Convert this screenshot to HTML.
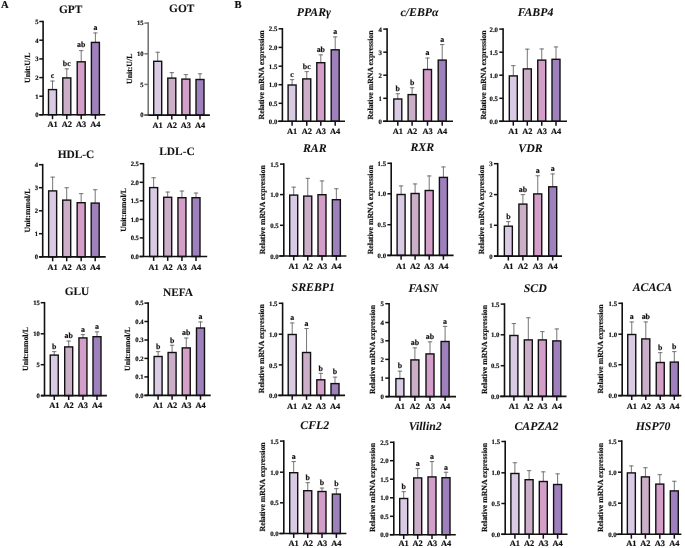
<!DOCTYPE html>
<html><head><meta charset="utf-8"><title>Figure</title>
<style>
html,body{margin:0;padding:0;background:#fff;}
body{width:685px;height:548px;overflow:hidden;}
svg{display:block;will-change:transform;filter:blur(0.3px);}
text{font-family:'Liberation Serif', serif;font-weight:bold;fill:#111;text-rendering:geometricPrecision;stroke:#111;stroke-width:0.18px;}
.ti{font-size:11.4px;text-anchor:middle;stroke-width:0.05px;}
.it{font-style:italic;font-size:11.8px;}
.tk{text-anchor:end;}
.yl{font-size:7.8px;text-anchor:middle;}
.xl{font-size:8.4px;text-anchor:middle;}
.let{font-size:7.9px;text-anchor:middle;}
.pl{font-size:10.6px;}
</style></head>
<body>
<svg width="685" height="548" viewBox="0 0 685 548">
<rect width="685" height="548" fill="#fff"/>
<text x="0.9" y="8.1" class="pl">A</text>
<text x="234.4" y="8.1" class="pl">B</text>
<line x1="52.5" y1="80.6" x2="52.5" y2="90.7" stroke="#666" stroke-width="0.9"/>
<line x1="50.3" y1="81.05" x2="54.7" y2="81.05" stroke="#666" stroke-width="0.9"/>
<rect x="48.5" y="89.6" width="8" height="25.2" fill="#d9cbe4" stroke="#111" stroke-width="1.4"/>
<text x="52.5" y="78.3" class="let">c</text>
<line x1="52.5" y1="114.8" x2="52.5" y2="119.2" stroke="#111" stroke-width="1.5"/>
<text x="52.5" y="127.4" class="xl">A1</text>
<line x1="66.8" y1="68.4" x2="66.8" y2="79" stroke="#666" stroke-width="0.9"/>
<line x1="64.6" y1="68.85" x2="69" y2="68.85" stroke="#666" stroke-width="0.9"/>
<rect x="62.8" y="77.9" width="8" height="36.9" fill="#cbaec7" stroke="#111" stroke-width="1.4"/>
<text x="66.8" y="66.1" class="let">bc</text>
<line x1="66.8" y1="114.8" x2="66.8" y2="119.2" stroke="#111" stroke-width="1.5"/>
<text x="66.8" y="127.4" class="xl">A2</text>
<line x1="81.2" y1="50.2" x2="81.2" y2="62.9" stroke="#666" stroke-width="0.9"/>
<line x1="79" y1="50.65" x2="83.4" y2="50.65" stroke="#666" stroke-width="0.9"/>
<rect x="77.2" y="61.8" width="8" height="53" fill="#d39ec8" stroke="#111" stroke-width="1.4"/>
<text x="81.2" y="46.6" class="let">ab</text>
<line x1="81.2" y1="114.8" x2="81.2" y2="119.2" stroke="#111" stroke-width="1.5"/>
<text x="81.2" y="127.4" class="xl">A3</text>
<line x1="95.4" y1="32.5" x2="95.4" y2="43.5" stroke="#666" stroke-width="0.9"/>
<line x1="93.2" y1="32.95" x2="97.6" y2="32.95" stroke="#666" stroke-width="0.9"/>
<rect x="91.4" y="42.4" width="8" height="72.4" fill="#9d80bc" stroke="#111" stroke-width="1.4"/>
<text x="95.4" y="30.2" class="let">a</text>
<line x1="95.4" y1="114.8" x2="95.4" y2="119.2" stroke="#111" stroke-width="1.5"/>
<text x="95.4" y="127.4" class="xl">A4</text>
<line x1="43.1" y1="20.7" x2="43.1" y2="114.8" stroke="#111" stroke-width="1.6"/>
<line x1="39.2" y1="114.8" x2="105.3" y2="114.8" stroke="#111" stroke-width="1.6"/>
<line x1="39.3" y1="21.5" x2="43.1" y2="21.5" stroke="#111" stroke-width="1.5"/>
<text x="38.5" y="23.8" class="tk" font-size="6.6">5</text>
<line x1="39.3" y1="40.2" x2="43.1" y2="40.2" stroke="#111" stroke-width="1.5"/>
<text x="38.5" y="42.5" class="tk" font-size="6.6">4</text>
<line x1="39.3" y1="58.9" x2="43.1" y2="58.9" stroke="#111" stroke-width="1.5"/>
<text x="38.5" y="61.2" class="tk" font-size="6.6">3</text>
<line x1="39.3" y1="77.6" x2="43.1" y2="77.6" stroke="#111" stroke-width="1.5"/>
<text x="38.5" y="79.9" class="tk" font-size="6.6">2</text>
<line x1="39.3" y1="96.2" x2="43.1" y2="96.2" stroke="#111" stroke-width="1.5"/>
<text x="38.5" y="98.5" class="tk" font-size="6.6">1</text>
<line x1="39.3" y1="114.8" x2="43.1" y2="114.8" stroke="#111" stroke-width="1.5"/>
<text x="38.5" y="117.1" class="tk" font-size="6.6">0</text>
<text x="70.7" y="13" class="ti">GPT</text>
<text transform="translate(29.7,67.8) rotate(-90)" class="yl">Unit:U/L</text>
<line x1="157.7" y1="51.8" x2="157.7" y2="62.4" stroke="#666" stroke-width="0.9"/>
<line x1="155.5" y1="52.25" x2="159.9" y2="52.25" stroke="#666" stroke-width="0.9"/>
<rect x="153.7" y="61.3" width="8" height="53.8" fill="#d9cbe4" stroke="#111" stroke-width="1.4"/>
<line x1="157.7" y1="115.1" x2="157.7" y2="119.5" stroke="#111" stroke-width="1.5"/>
<text x="157.7" y="127.7" class="xl">A1</text>
<line x1="171.8" y1="72.2" x2="171.8" y2="79.2" stroke="#666" stroke-width="0.9"/>
<line x1="169.6" y1="72.65" x2="174" y2="72.65" stroke="#666" stroke-width="0.9"/>
<rect x="167.8" y="78.1" width="8" height="37" fill="#cbaec7" stroke="#111" stroke-width="1.4"/>
<line x1="171.8" y1="115.1" x2="171.8" y2="119.5" stroke="#111" stroke-width="1.5"/>
<text x="171.8" y="127.7" class="xl">A2</text>
<line x1="185.9" y1="74.2" x2="185.9" y2="80.2" stroke="#666" stroke-width="0.9"/>
<line x1="183.7" y1="74.65" x2="188.1" y2="74.65" stroke="#666" stroke-width="0.9"/>
<rect x="181.9" y="79.1" width="8" height="36" fill="#d39ec8" stroke="#111" stroke-width="1.4"/>
<line x1="185.9" y1="115.1" x2="185.9" y2="119.5" stroke="#111" stroke-width="1.5"/>
<text x="185.9" y="127.7" class="xl">A3</text>
<line x1="200" y1="73.4" x2="200" y2="80.6" stroke="#666" stroke-width="0.9"/>
<line x1="197.8" y1="73.85" x2="202.2" y2="73.85" stroke="#666" stroke-width="0.9"/>
<rect x="196" y="79.5" width="8" height="35.6" fill="#9d80bc" stroke="#111" stroke-width="1.4"/>
<line x1="200" y1="115.1" x2="200" y2="119.5" stroke="#111" stroke-width="1.5"/>
<text x="200" y="127.7" class="xl">A4</text>
<line x1="148.2" y1="22.3" x2="148.2" y2="115.1" stroke="#777" stroke-width="1.6"/>
<line x1="144.5" y1="115.1" x2="209.9" y2="115.1" stroke="#111" stroke-width="1.6"/>
<line x1="144.4" y1="23.1" x2="148.2" y2="23.1" stroke="#777" stroke-width="1.5"/>
<text x="143.6" y="25.4" class="tk" font-size="6.6">15</text>
<line x1="144.4" y1="53.8" x2="148.2" y2="53.8" stroke="#777" stroke-width="1.5"/>
<text x="143.6" y="56.1" class="tk" font-size="6.6">10</text>
<line x1="144.4" y1="84.4" x2="148.2" y2="84.4" stroke="#777" stroke-width="1.5"/>
<text x="143.6" y="86.7" class="tk" font-size="6.6">5</text>
<line x1="144.4" y1="115.1" x2="148.2" y2="115.1" stroke="#777" stroke-width="1.5"/>
<text x="143.6" y="117.4" class="tk" font-size="6.6">0</text>
<text x="181.7" y="12" class="ti">GOT</text>
<text transform="translate(131.7,68.8) rotate(-90)" class="yl">Unit:U/L</text>
<line x1="52.65" y1="176.7" x2="52.65" y2="192" stroke="#666" stroke-width="0.9"/>
<line x1="50.45" y1="177.15" x2="54.85" y2="177.15" stroke="#666" stroke-width="0.9"/>
<rect x="48.65" y="190.9" width="8" height="66" fill="#d9cbe4" stroke="#111" stroke-width="1.4"/>
<line x1="52.65" y1="256.9" x2="52.65" y2="261.3" stroke="#111" stroke-width="1.5"/>
<text x="52.65" y="270.2" class="xl">A1</text>
<line x1="66.7" y1="187.3" x2="66.7" y2="201.2" stroke="#666" stroke-width="0.9"/>
<line x1="64.5" y1="187.75" x2="68.9" y2="187.75" stroke="#666" stroke-width="0.9"/>
<rect x="62.7" y="200.1" width="8" height="56.8" fill="#cbaec7" stroke="#111" stroke-width="1.4"/>
<line x1="66.7" y1="256.9" x2="66.7" y2="261.3" stroke="#111" stroke-width="1.5"/>
<text x="66.7" y="270.2" class="xl">A2</text>
<line x1="81.15" y1="193.2" x2="81.15" y2="203.8" stroke="#666" stroke-width="0.9"/>
<line x1="78.95" y1="193.65" x2="83.35" y2="193.65" stroke="#666" stroke-width="0.9"/>
<rect x="77.15" y="202.7" width="8" height="54.2" fill="#d39ec8" stroke="#111" stroke-width="1.4"/>
<line x1="81.15" y1="256.9" x2="81.15" y2="261.3" stroke="#111" stroke-width="1.5"/>
<text x="81.15" y="270.2" class="xl">A3</text>
<line x1="95.2" y1="189.3" x2="95.2" y2="204.2" stroke="#666" stroke-width="0.9"/>
<line x1="93" y1="189.75" x2="97.4" y2="189.75" stroke="#666" stroke-width="0.9"/>
<rect x="91.2" y="203.1" width="8" height="53.8" fill="#9d80bc" stroke="#111" stroke-width="1.4"/>
<line x1="95.2" y1="256.9" x2="95.2" y2="261.3" stroke="#111" stroke-width="1.5"/>
<text x="95.2" y="270.2" class="xl">A4</text>
<line x1="42.7" y1="163.9" x2="42.7" y2="256.9" stroke="#111" stroke-width="1.6"/>
<line x1="39.5" y1="256.9" x2="105.7" y2="256.9" stroke="#111" stroke-width="1.6"/>
<line x1="38.9" y1="164.7" x2="42.7" y2="164.7" stroke="#111" stroke-width="1.5"/>
<text x="38.1" y="167" class="tk" font-size="6.6">4</text>
<line x1="38.9" y1="187.7" x2="42.7" y2="187.7" stroke="#111" stroke-width="1.5"/>
<text x="38.1" y="190" class="tk" font-size="6.6">3</text>
<line x1="38.9" y1="210.8" x2="42.7" y2="210.8" stroke="#111" stroke-width="1.5"/>
<text x="38.1" y="213.1" class="tk" font-size="6.6">2</text>
<line x1="38.9" y1="233.7" x2="42.7" y2="233.7" stroke="#111" stroke-width="1.5"/>
<text x="38.1" y="236" class="tk" font-size="6.6">1</text>
<line x1="38.9" y1="256.9" x2="42.7" y2="256.9" stroke="#111" stroke-width="1.5"/>
<text x="38.1" y="259.2" class="tk" font-size="6.6">0</text>
<text x="76" y="157.5" class="ti">HDL-C</text>
<text transform="translate(30.4,210.5) rotate(-90)" class="yl">Unit:mmol/L</text>
<line x1="153.65" y1="177.3" x2="153.65" y2="188.7" stroke="#666" stroke-width="0.9"/>
<line x1="151.45" y1="177.75" x2="155.85" y2="177.75" stroke="#666" stroke-width="0.9"/>
<rect x="149.65" y="187.6" width="8" height="68.9" fill="#d9cbe4" stroke="#111" stroke-width="1.4"/>
<line x1="153.65" y1="256.5" x2="153.65" y2="260.9" stroke="#111" stroke-width="1.5"/>
<text x="153.65" y="270.2" class="xl">A1</text>
<line x1="167.7" y1="191.6" x2="167.7" y2="198.4" stroke="#666" stroke-width="0.9"/>
<line x1="165.5" y1="192.05" x2="169.9" y2="192.05" stroke="#666" stroke-width="0.9"/>
<rect x="163.7" y="197.3" width="8" height="59.2" fill="#cbaec7" stroke="#111" stroke-width="1.4"/>
<line x1="167.7" y1="256.5" x2="167.7" y2="260.9" stroke="#111" stroke-width="1.5"/>
<text x="167.7" y="270.2" class="xl">A2</text>
<line x1="181.95" y1="190.6" x2="181.95" y2="198.8" stroke="#666" stroke-width="0.9"/>
<line x1="179.75" y1="191.05" x2="184.15" y2="191.05" stroke="#666" stroke-width="0.9"/>
<rect x="177.95" y="197.7" width="8" height="58.8" fill="#d39ec8" stroke="#111" stroke-width="1.4"/>
<line x1="181.95" y1="256.5" x2="181.95" y2="260.9" stroke="#111" stroke-width="1.5"/>
<text x="181.95" y="270.2" class="xl">A3</text>
<line x1="196" y1="192.6" x2="196" y2="198.8" stroke="#666" stroke-width="0.9"/>
<line x1="193.8" y1="193.05" x2="198.2" y2="193.05" stroke="#666" stroke-width="0.9"/>
<rect x="192" y="197.7" width="8" height="58.8" fill="#9d80bc" stroke="#111" stroke-width="1.4"/>
<line x1="196" y1="256.5" x2="196" y2="260.9" stroke="#111" stroke-width="1.5"/>
<text x="196" y="270.2" class="xl">A4</text>
<line x1="143.5" y1="162.9" x2="143.5" y2="256.5" stroke="#111" stroke-width="1.6"/>
<line x1="139.6" y1="256.5" x2="207.2" y2="256.5" stroke="#111" stroke-width="1.6"/>
<line x1="139.7" y1="163.7" x2="143.5" y2="163.7" stroke="#111" stroke-width="1.5"/>
<text x="138.9" y="166" class="tk" font-size="6.6">2.5</text>
<line x1="139.7" y1="182.3" x2="143.5" y2="182.3" stroke="#111" stroke-width="1.5"/>
<text x="138.9" y="184.6" class="tk" font-size="6.6">2.0</text>
<line x1="139.7" y1="200.8" x2="143.5" y2="200.8" stroke="#111" stroke-width="1.5"/>
<text x="138.9" y="203.1" class="tk" font-size="6.6">1.5</text>
<line x1="139.7" y1="219.4" x2="143.5" y2="219.4" stroke="#111" stroke-width="1.5"/>
<text x="138.9" y="221.7" class="tk" font-size="6.6">1.0</text>
<line x1="139.7" y1="237.9" x2="143.5" y2="237.9" stroke="#111" stroke-width="1.5"/>
<text x="138.9" y="240.2" class="tk" font-size="6.6">0.5</text>
<line x1="139.7" y1="256.5" x2="143.5" y2="256.5" stroke="#111" stroke-width="1.5"/>
<text x="138.9" y="258.8" class="tk" font-size="6.6">0.0</text>
<text x="177" y="155" class="ti">LDL-C</text>
<text transform="translate(125.8,209.9) rotate(-90)" class="yl">Unit:mmol/L</text>
<line x1="54.25" y1="351.2" x2="54.25" y2="356.2" stroke="#666" stroke-width="0.9"/>
<line x1="52.05" y1="351.65" x2="56.45" y2="351.65" stroke="#666" stroke-width="0.9"/>
<rect x="50.25" y="355.1" width="8" height="40.5" fill="#d9cbe4" stroke="#111" stroke-width="1.4"/>
<text x="54.25" y="348.9" class="let">b</text>
<line x1="54.25" y1="395.6" x2="54.25" y2="400" stroke="#111" stroke-width="1.5"/>
<text x="54.25" y="408.2" class="xl">A1</text>
<line x1="68.7" y1="340.6" x2="68.7" y2="348" stroke="#666" stroke-width="0.9"/>
<line x1="66.5" y1="341.05" x2="70.9" y2="341.05" stroke="#666" stroke-width="0.9"/>
<rect x="64.7" y="346.9" width="8" height="48.7" fill="#cbaec7" stroke="#111" stroke-width="1.4"/>
<text x="68.7" y="338.3" class="let">ab</text>
<line x1="68.7" y1="395.6" x2="68.7" y2="400" stroke="#111" stroke-width="1.5"/>
<text x="68.7" y="408.2" class="xl">A2</text>
<line x1="82.95" y1="334.2" x2="82.95" y2="339" stroke="#666" stroke-width="0.9"/>
<line x1="80.75" y1="334.65" x2="85.15" y2="334.65" stroke="#666" stroke-width="0.9"/>
<rect x="78.95" y="337.9" width="8" height="57.7" fill="#d39ec8" stroke="#111" stroke-width="1.4"/>
<text x="82.95" y="331.9" class="let">a</text>
<line x1="82.95" y1="395.6" x2="82.95" y2="400" stroke="#111" stroke-width="1.5"/>
<text x="82.95" y="408.2" class="xl">A3</text>
<line x1="97" y1="331.4" x2="97" y2="337.8" stroke="#666" stroke-width="0.9"/>
<line x1="94.8" y1="331.85" x2="99.2" y2="331.85" stroke="#666" stroke-width="0.9"/>
<rect x="93" y="336.7" width="8" height="58.9" fill="#9d80bc" stroke="#111" stroke-width="1.4"/>
<text x="97" y="329.1" class="let">a</text>
<line x1="97" y1="395.6" x2="97" y2="400" stroke="#111" stroke-width="1.5"/>
<text x="97" y="408.2" class="xl">A4</text>
<line x1="44.5" y1="301.9" x2="44.5" y2="395.6" stroke="#111" stroke-width="1.6"/>
<line x1="41.1" y1="395.6" x2="106.9" y2="395.6" stroke="#111" stroke-width="1.6"/>
<line x1="40.7" y1="302.7" x2="44.5" y2="302.7" stroke="#111" stroke-width="1.5"/>
<text x="39.9" y="305" class="tk" font-size="6.6">15</text>
<line x1="40.7" y1="333.8" x2="44.5" y2="333.8" stroke="#111" stroke-width="1.5"/>
<text x="39.9" y="336.1" class="tk" font-size="6.6">10</text>
<line x1="40.7" y1="364.7" x2="44.5" y2="364.7" stroke="#111" stroke-width="1.5"/>
<text x="39.9" y="367" class="tk" font-size="6.6">5</text>
<line x1="40.7" y1="395.6" x2="44.5" y2="395.6" stroke="#111" stroke-width="1.5"/>
<text x="39.9" y="397.9" class="tk" font-size="6.6">0</text>
<text x="77" y="294.6" class="ti">GLU</text>
<text transform="translate(28.3,349) rotate(-90)" class="yl">Unit:mmol/L</text>
<line x1="158.1" y1="351.2" x2="158.1" y2="357.6" stroke="#666" stroke-width="0.9"/>
<line x1="155.9" y1="351.65" x2="160.3" y2="351.65" stroke="#666" stroke-width="0.9"/>
<rect x="154.1" y="356.5" width="8" height="38.9" fill="#d9cbe4" stroke="#111" stroke-width="1.4"/>
<text x="158.1" y="348.9" class="let">b</text>
<line x1="158.1" y1="395.4" x2="158.1" y2="399.8" stroke="#111" stroke-width="1.5"/>
<text x="158.1" y="408.2" class="xl">A1</text>
<line x1="172.1" y1="344.8" x2="172.1" y2="353.6" stroke="#666" stroke-width="0.9"/>
<line x1="169.9" y1="345.25" x2="174.3" y2="345.25" stroke="#666" stroke-width="0.9"/>
<rect x="168.1" y="352.5" width="8" height="42.9" fill="#cbaec7" stroke="#111" stroke-width="1.4"/>
<text x="172.1" y="342.5" class="let">b</text>
<line x1="172.1" y1="395.4" x2="172.1" y2="399.8" stroke="#111" stroke-width="1.5"/>
<text x="172.1" y="408.2" class="xl">A2</text>
<line x1="186.25" y1="337.6" x2="186.25" y2="349" stroke="#666" stroke-width="0.9"/>
<line x1="184.05" y1="338.05" x2="188.45" y2="338.05" stroke="#666" stroke-width="0.9"/>
<rect x="182.25" y="347.9" width="8" height="47.5" fill="#d39ec8" stroke="#111" stroke-width="1.4"/>
<text x="186.25" y="335.3" class="let">ab</text>
<line x1="186.25" y1="395.4" x2="186.25" y2="399.8" stroke="#111" stroke-width="1.5"/>
<text x="186.25" y="408.2" class="xl">A3</text>
<line x1="200.5" y1="321.5" x2="200.5" y2="329.1" stroke="#666" stroke-width="0.9"/>
<line x1="198.3" y1="321.95" x2="202.7" y2="321.95" stroke="#666" stroke-width="0.9"/>
<rect x="196.5" y="328" width="8" height="67.4" fill="#9d80bc" stroke="#111" stroke-width="1.4"/>
<text x="200.5" y="319.2" class="let">a</text>
<line x1="200.5" y1="395.4" x2="200.5" y2="399.8" stroke="#111" stroke-width="1.5"/>
<text x="200.5" y="408.2" class="xl">A4</text>
<line x1="148.2" y1="302.3" x2="148.2" y2="395.4" stroke="#111" stroke-width="1.6"/>
<line x1="144.5" y1="395.4" x2="210.7" y2="395.4" stroke="#111" stroke-width="1.6"/>
<line x1="144.4" y1="303.1" x2="148.2" y2="303.1" stroke="#111" stroke-width="1.5"/>
<text x="143.6" y="305.4" class="tk" font-size="6.6">0.5</text>
<line x1="144.4" y1="321.5" x2="148.2" y2="321.5" stroke="#111" stroke-width="1.5"/>
<text x="143.6" y="323.8" class="tk" font-size="6.6">0.4</text>
<line x1="144.4" y1="340" x2="148.2" y2="340" stroke="#111" stroke-width="1.5"/>
<text x="143.6" y="342.3" class="tk" font-size="6.6">0.3</text>
<line x1="144.4" y1="358.4" x2="148.2" y2="358.4" stroke="#111" stroke-width="1.5"/>
<text x="143.6" y="360.7" class="tk" font-size="6.6">0.2</text>
<line x1="144.4" y1="376.9" x2="148.2" y2="376.9" stroke="#111" stroke-width="1.5"/>
<text x="143.6" y="379.2" class="tk" font-size="6.6">0.1</text>
<line x1="144.4" y1="395.4" x2="148.2" y2="395.4" stroke="#111" stroke-width="1.5"/>
<text x="143.6" y="397.7" class="tk" font-size="6.6">0.0</text>
<text x="178" y="295.6" class="ti">NEFA</text>
<text transform="translate(130.2,349) rotate(-90)" class="yl">Unit:mmol/L</text>
<line x1="292.1" y1="79.2" x2="292.1" y2="86.1" stroke="#666" stroke-width="0.9"/>
<line x1="289.9" y1="79.65" x2="294.3" y2="79.65" stroke="#666" stroke-width="0.9"/>
<rect x="288.1" y="85" width="8" height="36.3" fill="#d9cbe4" stroke="#111" stroke-width="1.4"/>
<text x="292.1" y="76.9" class="let">c</text>
<line x1="292.1" y1="121.3" x2="292.1" y2="125.7" stroke="#111" stroke-width="1.5"/>
<text x="292.1" y="134.3" class="xl">A1</text>
<line x1="306.75" y1="71.2" x2="306.75" y2="80" stroke="#666" stroke-width="0.9"/>
<line x1="304.55" y1="71.65" x2="308.95" y2="71.65" stroke="#666" stroke-width="0.9"/>
<rect x="302.75" y="78.9" width="8" height="42.4" fill="#cbaec7" stroke="#111" stroke-width="1.4"/>
<text x="306.75" y="68.9" class="let">bc</text>
<line x1="306.75" y1="121.3" x2="306.75" y2="125.7" stroke="#111" stroke-width="1.5"/>
<text x="306.75" y="134.3" class="xl">A2</text>
<line x1="320.8" y1="54.4" x2="320.8" y2="63.8" stroke="#666" stroke-width="0.9"/>
<line x1="318.6" y1="54.85" x2="323" y2="54.85" stroke="#666" stroke-width="0.9"/>
<rect x="316.8" y="62.7" width="8" height="58.6" fill="#d39ec8" stroke="#111" stroke-width="1.4"/>
<text x="320.8" y="52.1" class="let">ab</text>
<line x1="320.8" y1="121.3" x2="320.8" y2="125.7" stroke="#111" stroke-width="1.5"/>
<text x="320.8" y="134.3" class="xl">A3</text>
<line x1="335.2" y1="36.5" x2="335.2" y2="50.9" stroke="#666" stroke-width="0.9"/>
<line x1="333" y1="36.95" x2="337.4" y2="36.95" stroke="#666" stroke-width="0.9"/>
<rect x="331.2" y="49.8" width="8" height="71.5" fill="#9d80bc" stroke="#111" stroke-width="1.4"/>
<text x="335.2" y="34.2" class="let">a</text>
<line x1="335.2" y1="121.3" x2="335.2" y2="125.7" stroke="#111" stroke-width="1.5"/>
<text x="335.2" y="134.3" class="xl">A4</text>
<line x1="282.4" y1="28" x2="282.4" y2="121.3" stroke="#111" stroke-width="1.6"/>
<line x1="278.2" y1="121.3" x2="345" y2="121.3" stroke="#111" stroke-width="1.6"/>
<line x1="278.6" y1="28.8" x2="282.4" y2="28.8" stroke="#111" stroke-width="1.5"/>
<text x="277.3" y="31.4" class="tk" font-size="6.8">2.5</text>
<line x1="278.6" y1="47.4" x2="282.4" y2="47.4" stroke="#111" stroke-width="1.5"/>
<text x="277.3" y="50" class="tk" font-size="6.8">2.0</text>
<line x1="278.6" y1="66.2" x2="282.4" y2="66.2" stroke="#111" stroke-width="1.5"/>
<text x="277.3" y="68.8" class="tk" font-size="6.8">1.5</text>
<line x1="278.6" y1="84.7" x2="282.4" y2="84.7" stroke="#111" stroke-width="1.5"/>
<text x="277.3" y="87.3" class="tk" font-size="6.8">1.0</text>
<line x1="278.6" y1="103.3" x2="282.4" y2="103.3" stroke="#111" stroke-width="1.5"/>
<text x="277.3" y="105.9" class="tk" font-size="6.8">0.5</text>
<line x1="278.6" y1="121.3" x2="282.4" y2="121.3" stroke="#111" stroke-width="1.5"/>
<text x="277.3" y="123.9" class="tk" font-size="6.8">0.0</text>
<text x="313.9" y="16.4" class="ti it">PPARγ</text>
<text transform="translate(263.5,74.9) rotate(-90)" class="yl">Relative mRNA expression</text>
<line x1="397.8" y1="93.3" x2="397.8" y2="100.1" stroke="#666" stroke-width="0.9"/>
<line x1="395.6" y1="93.75" x2="400" y2="93.75" stroke="#666" stroke-width="0.9"/>
<rect x="393.8" y="99" width="8" height="22.3" fill="#d9cbe4" stroke="#111" stroke-width="1.4"/>
<text x="397.8" y="91" class="let">b</text>
<line x1="397.8" y1="121.3" x2="397.8" y2="125.7" stroke="#111" stroke-width="1.5"/>
<text x="397.8" y="134.3" class="xl">A1</text>
<line x1="412.1" y1="87.3" x2="412.1" y2="95.7" stroke="#666" stroke-width="0.9"/>
<line x1="409.9" y1="87.75" x2="414.3" y2="87.75" stroke="#666" stroke-width="0.9"/>
<rect x="408.1" y="94.6" width="8" height="26.7" fill="#cbaec7" stroke="#111" stroke-width="1.4"/>
<text x="412.1" y="85" class="let">b</text>
<line x1="412.1" y1="121.3" x2="412.1" y2="125.7" stroke="#111" stroke-width="1.5"/>
<text x="412.1" y="134.3" class="xl">A2</text>
<line x1="427.5" y1="57.6" x2="427.5" y2="70.6" stroke="#666" stroke-width="0.9"/>
<line x1="425.3" y1="58.05" x2="429.7" y2="58.05" stroke="#666" stroke-width="0.9"/>
<rect x="423.5" y="69.5" width="8" height="51.8" fill="#d39ec8" stroke="#111" stroke-width="1.4"/>
<text x="427.5" y="55.3" class="let">a</text>
<line x1="427.5" y1="121.3" x2="427.5" y2="125.7" stroke="#111" stroke-width="1.5"/>
<text x="427.5" y="134.3" class="xl">A3</text>
<line x1="442.2" y1="44.1" x2="442.2" y2="61.2" stroke="#666" stroke-width="0.9"/>
<line x1="440" y1="44.55" x2="444.4" y2="44.55" stroke="#666" stroke-width="0.9"/>
<rect x="438.2" y="60.1" width="8" height="61.2" fill="#9d80bc" stroke="#111" stroke-width="1.4"/>
<text x="442.2" y="41.8" class="let">a</text>
<line x1="442.2" y1="121.3" x2="442.2" y2="125.7" stroke="#111" stroke-width="1.5"/>
<text x="442.2" y="134.3" class="xl">A4</text>
<line x1="387.1" y1="28.3" x2="387.1" y2="121.3" stroke="#111" stroke-width="1.6"/>
<line x1="383.1" y1="121.3" x2="453" y2="121.3" stroke="#111" stroke-width="1.6"/>
<line x1="383.3" y1="29.1" x2="387.1" y2="29.1" stroke="#111" stroke-width="1.5"/>
<text x="382" y="31.7" class="tk" font-size="6.8">4</text>
<line x1="383.3" y1="52.2" x2="387.1" y2="52.2" stroke="#111" stroke-width="1.5"/>
<text x="382" y="54.8" class="tk" font-size="6.8">3</text>
<line x1="383.3" y1="75.2" x2="387.1" y2="75.2" stroke="#111" stroke-width="1.5"/>
<text x="382" y="77.8" class="tk" font-size="6.8">2</text>
<line x1="383.3" y1="98.3" x2="387.1" y2="98.3" stroke="#111" stroke-width="1.5"/>
<text x="382" y="100.9" class="tk" font-size="6.8">1</text>
<line x1="383.3" y1="121.3" x2="387.1" y2="121.3" stroke="#111" stroke-width="1.5"/>
<text x="382" y="123.9" class="tk" font-size="6.8">0</text>
<text x="419.5" y="16.4" class="ti it">c/EBPα</text>
<text transform="translate(372.5,75) rotate(-90)" class="yl">Relative mRNA expression</text>
<line x1="513.3" y1="65.2" x2="513.3" y2="77" stroke="#666" stroke-width="0.9"/>
<line x1="511.1" y1="65.65" x2="515.5" y2="65.65" stroke="#666" stroke-width="0.9"/>
<rect x="509.3" y="75.9" width="8" height="45.4" fill="#d9cbe4" stroke="#111" stroke-width="1.4"/>
<line x1="513.3" y1="121.3" x2="513.3" y2="125.7" stroke="#111" stroke-width="1.5"/>
<text x="513.3" y="134.3" class="xl">A1</text>
<line x1="527.3" y1="48.7" x2="527.3" y2="70" stroke="#666" stroke-width="0.9"/>
<line x1="525.1" y1="49.15" x2="529.5" y2="49.15" stroke="#666" stroke-width="0.9"/>
<rect x="523.3" y="68.9" width="8" height="52.4" fill="#cbaec7" stroke="#111" stroke-width="1.4"/>
<line x1="527.3" y1="121.3" x2="527.3" y2="125.7" stroke="#111" stroke-width="1.5"/>
<text x="527.3" y="134.3" class="xl">A2</text>
<line x1="541.75" y1="48.5" x2="541.75" y2="61.2" stroke="#666" stroke-width="0.9"/>
<line x1="539.55" y1="48.95" x2="543.95" y2="48.95" stroke="#666" stroke-width="0.9"/>
<rect x="537.75" y="60.1" width="8" height="61.2" fill="#d39ec8" stroke="#111" stroke-width="1.4"/>
<line x1="541.75" y1="121.3" x2="541.75" y2="125.7" stroke="#111" stroke-width="1.5"/>
<text x="541.75" y="134.3" class="xl">A3</text>
<line x1="556" y1="46.5" x2="556" y2="60.4" stroke="#666" stroke-width="0.9"/>
<line x1="553.8" y1="46.95" x2="558.2" y2="46.95" stroke="#666" stroke-width="0.9"/>
<rect x="552" y="59.3" width="8" height="62" fill="#9d80bc" stroke="#111" stroke-width="1.4"/>
<line x1="556" y1="121.3" x2="556" y2="125.7" stroke="#111" stroke-width="1.5"/>
<text x="556" y="134.3" class="xl">A4</text>
<line x1="503.1" y1="28.3" x2="503.1" y2="121.3" stroke="#111" stroke-width="1.6"/>
<line x1="499.1" y1="121.3" x2="567" y2="121.3" stroke="#111" stroke-width="1.6"/>
<line x1="499.3" y1="29.1" x2="503.1" y2="29.1" stroke="#111" stroke-width="1.5"/>
<text x="498" y="31.7" class="tk" font-size="6.8">2.0</text>
<line x1="499.3" y1="52.2" x2="503.1" y2="52.2" stroke="#111" stroke-width="1.5"/>
<text x="498" y="54.8" class="tk" font-size="6.8">1.5</text>
<line x1="499.3" y1="75.2" x2="503.1" y2="75.2" stroke="#111" stroke-width="1.5"/>
<text x="498" y="77.8" class="tk" font-size="6.8">1.0</text>
<line x1="499.3" y1="98.3" x2="503.1" y2="98.3" stroke="#111" stroke-width="1.5"/>
<text x="498" y="100.9" class="tk" font-size="6.8">0.5</text>
<line x1="499.3" y1="121.3" x2="503.1" y2="121.3" stroke="#111" stroke-width="1.5"/>
<text x="498" y="123.9" class="tk" font-size="6.8">0.0</text>
<text x="535.5" y="16.4" class="ti it">FABP4</text>
<text transform="translate(486,75) rotate(-90)" class="yl">Relative mRNA expression</text>
<line x1="293.7" y1="186.7" x2="293.7" y2="196.2" stroke="#666" stroke-width="0.9"/>
<line x1="291.5" y1="187.15" x2="295.9" y2="187.15" stroke="#666" stroke-width="0.9"/>
<rect x="289.7" y="195.1" width="8" height="60.9" fill="#d9cbe4" stroke="#111" stroke-width="1.4"/>
<line x1="293.7" y1="256" x2="293.7" y2="260.4" stroke="#111" stroke-width="1.5"/>
<text x="293.7" y="268.9" class="xl">A1</text>
<line x1="307.75" y1="177.9" x2="307.75" y2="197.2" stroke="#666" stroke-width="0.9"/>
<line x1="305.55" y1="178.35" x2="309.95" y2="178.35" stroke="#666" stroke-width="0.9"/>
<rect x="303.75" y="196.1" width="8" height="59.9" fill="#cbaec7" stroke="#111" stroke-width="1.4"/>
<line x1="307.75" y1="256" x2="307.75" y2="260.4" stroke="#111" stroke-width="1.5"/>
<text x="307.75" y="268.9" class="xl">A2</text>
<line x1="322" y1="180.5" x2="322" y2="195.8" stroke="#666" stroke-width="0.9"/>
<line x1="319.8" y1="180.95" x2="324.2" y2="180.95" stroke="#666" stroke-width="0.9"/>
<rect x="318" y="194.7" width="8" height="61.3" fill="#d39ec8" stroke="#111" stroke-width="1.4"/>
<line x1="322" y1="256" x2="322" y2="260.4" stroke="#111" stroke-width="1.5"/>
<text x="322" y="268.9" class="xl">A3</text>
<line x1="336.35" y1="188.3" x2="336.35" y2="200.8" stroke="#666" stroke-width="0.9"/>
<line x1="334.15" y1="188.75" x2="338.55" y2="188.75" stroke="#666" stroke-width="0.9"/>
<rect x="332.35" y="199.7" width="8" height="56.3" fill="#9d80bc" stroke="#111" stroke-width="1.4"/>
<line x1="336.35" y1="256" x2="336.35" y2="260.4" stroke="#111" stroke-width="1.5"/>
<text x="336.35" y="268.9" class="xl">A4</text>
<line x1="283.8" y1="163.3" x2="283.8" y2="256" stroke="#111" stroke-width="1.6"/>
<line x1="278.8" y1="256" x2="346.4" y2="256" stroke="#111" stroke-width="1.6"/>
<line x1="280" y1="164.1" x2="283.8" y2="164.1" stroke="#111" stroke-width="1.5"/>
<text x="278.7" y="166.7" class="tk" font-size="6.8">1.5</text>
<line x1="280" y1="194.6" x2="283.8" y2="194.6" stroke="#111" stroke-width="1.5"/>
<text x="278.7" y="197.2" class="tk" font-size="6.8">1.0</text>
<line x1="280" y1="225.3" x2="283.8" y2="225.3" stroke="#111" stroke-width="1.5"/>
<text x="278.7" y="227.9" class="tk" font-size="6.8">0.5</text>
<line x1="280" y1="256" x2="283.8" y2="256" stroke="#111" stroke-width="1.5"/>
<text x="278.7" y="258.6" class="tk" font-size="6.8">0.0</text>
<text x="314.75" y="151.5" class="ti it">RAR</text>
<text transform="translate(265,209.8) rotate(-90)" class="yl">Relative mRNA expression</text>
<line x1="401.1" y1="185.5" x2="401.1" y2="195.6" stroke="#666" stroke-width="0.9"/>
<line x1="398.9" y1="185.95" x2="403.3" y2="185.95" stroke="#666" stroke-width="0.9"/>
<rect x="397.1" y="194.5" width="8" height="60.9" fill="#d9cbe4" stroke="#111" stroke-width="1.4"/>
<line x1="401.1" y1="255.4" x2="401.1" y2="259.8" stroke="#111" stroke-width="1.5"/>
<text x="401.1" y="268.9" class="xl">A1</text>
<line x1="415.1" y1="183.5" x2="415.1" y2="194.6" stroke="#666" stroke-width="0.9"/>
<line x1="412.9" y1="183.95" x2="417.3" y2="183.95" stroke="#666" stroke-width="0.9"/>
<rect x="411.1" y="193.5" width="8" height="61.9" fill="#cbaec7" stroke="#111" stroke-width="1.4"/>
<line x1="415.1" y1="255.4" x2="415.1" y2="259.8" stroke="#111" stroke-width="1.5"/>
<text x="415.1" y="268.9" class="xl">A2</text>
<line x1="429.2" y1="175.5" x2="429.2" y2="191.6" stroke="#666" stroke-width="0.9"/>
<line x1="427" y1="175.95" x2="431.4" y2="175.95" stroke="#666" stroke-width="0.9"/>
<rect x="425.2" y="190.5" width="8" height="64.9" fill="#d39ec8" stroke="#111" stroke-width="1.4"/>
<line x1="429.2" y1="255.4" x2="429.2" y2="259.8" stroke="#111" stroke-width="1.5"/>
<text x="429.2" y="268.9" class="xl">A3</text>
<line x1="443.4" y1="166.5" x2="443.4" y2="178.5" stroke="#666" stroke-width="0.9"/>
<line x1="441.2" y1="166.95" x2="445.6" y2="166.95" stroke="#666" stroke-width="0.9"/>
<rect x="439.4" y="177.4" width="8" height="78" fill="#9d80bc" stroke="#111" stroke-width="1.4"/>
<line x1="443.4" y1="255.4" x2="443.4" y2="259.8" stroke="#111" stroke-width="1.5"/>
<text x="443.4" y="268.9" class="xl">A4</text>
<line x1="391.2" y1="162.5" x2="391.2" y2="255.4" stroke="#111" stroke-width="1.6"/>
<line x1="387.2" y1="255.4" x2="453.6" y2="255.4" stroke="#111" stroke-width="1.6"/>
<line x1="387.4" y1="163.3" x2="391.2" y2="163.3" stroke="#111" stroke-width="1.5"/>
<text x="386.1" y="165.9" class="tk" font-size="6.8">1.5</text>
<line x1="387.4" y1="193.8" x2="391.2" y2="193.8" stroke="#111" stroke-width="1.5"/>
<text x="386.1" y="196.4" class="tk" font-size="6.8">1.0</text>
<line x1="387.4" y1="224.7" x2="391.2" y2="224.7" stroke="#111" stroke-width="1.5"/>
<text x="386.1" y="227.3" class="tk" font-size="6.8">0.5</text>
<line x1="387.4" y1="255.4" x2="391.2" y2="255.4" stroke="#111" stroke-width="1.5"/>
<text x="386.1" y="258" class="tk" font-size="6.8">0.0</text>
<text x="422.25" y="151.3" class="ti it">RXR</text>
<text transform="translate(372.5,209.8) rotate(-90)" class="yl">Relative mRNA expression</text>
<line x1="508.35" y1="221.2" x2="508.35" y2="227.3" stroke="#666" stroke-width="0.9"/>
<line x1="506.15" y1="221.65" x2="510.55" y2="221.65" stroke="#666" stroke-width="0.9"/>
<rect x="504.35" y="226.2" width="8" height="29.9" fill="#d9cbe4" stroke="#111" stroke-width="1.4"/>
<text x="508.35" y="218.9" class="let">b</text>
<line x1="508.35" y1="256.1" x2="508.35" y2="260.5" stroke="#111" stroke-width="1.5"/>
<text x="508.35" y="268.9" class="xl">A1</text>
<line x1="522.9" y1="194.2" x2="522.9" y2="205.2" stroke="#666" stroke-width="0.9"/>
<line x1="520.7" y1="194.65" x2="525.1" y2="194.65" stroke="#666" stroke-width="0.9"/>
<rect x="518.9" y="204.1" width="8" height="52" fill="#cbaec7" stroke="#111" stroke-width="1.4"/>
<text x="522.9" y="191.9" class="let">ab</text>
<line x1="522.9" y1="256.1" x2="522.9" y2="260.5" stroke="#111" stroke-width="1.5"/>
<text x="522.9" y="268.9" class="xl">A2</text>
<line x1="537.75" y1="175.3" x2="537.75" y2="195" stroke="#666" stroke-width="0.9"/>
<line x1="535.55" y1="175.75" x2="539.95" y2="175.75" stroke="#666" stroke-width="0.9"/>
<rect x="533.75" y="193.9" width="8" height="62.2" fill="#d39ec8" stroke="#111" stroke-width="1.4"/>
<text x="537.75" y="173" class="let">a</text>
<line x1="537.75" y1="256.1" x2="537.75" y2="260.5" stroke="#111" stroke-width="1.5"/>
<text x="537.75" y="268.9" class="xl">A3</text>
<line x1="552.7" y1="173.5" x2="552.7" y2="187.9" stroke="#666" stroke-width="0.9"/>
<line x1="550.5" y1="173.95" x2="554.9" y2="173.95" stroke="#666" stroke-width="0.9"/>
<rect x="548.7" y="186.8" width="8" height="69.3" fill="#9d80bc" stroke="#111" stroke-width="1.4"/>
<text x="552.7" y="171.2" class="let">a</text>
<line x1="552.7" y1="256.1" x2="552.7" y2="260.5" stroke="#111" stroke-width="1.5"/>
<text x="552.7" y="268.9" class="xl">A4</text>
<line x1="497.7" y1="162.9" x2="497.7" y2="256.1" stroke="#111" stroke-width="1.6"/>
<line x1="494" y1="256.1" x2="562" y2="256.1" stroke="#111" stroke-width="1.6"/>
<line x1="493.9" y1="163.7" x2="497.7" y2="163.7" stroke="#111" stroke-width="1.5"/>
<text x="492.6" y="166.3" class="tk" font-size="6.8">3</text>
<line x1="493.9" y1="194.6" x2="497.7" y2="194.6" stroke="#111" stroke-width="1.5"/>
<text x="492.6" y="197.2" class="tk" font-size="6.8">2</text>
<line x1="493.9" y1="225.3" x2="497.7" y2="225.3" stroke="#111" stroke-width="1.5"/>
<text x="492.6" y="227.9" class="tk" font-size="6.8">1</text>
<line x1="493.9" y1="256.1" x2="497.7" y2="256.1" stroke="#111" stroke-width="1.5"/>
<text x="492.6" y="258.7" class="tk" font-size="6.8">0</text>
<text x="530.5" y="151.5" class="ti it">VDR</text>
<text transform="translate(483.5,209.8) rotate(-90)" class="yl">Relative mRNA expression</text>
<line x1="292.2" y1="322.5" x2="292.2" y2="335.6" stroke="#666" stroke-width="0.9"/>
<line x1="290" y1="322.95" x2="294.4" y2="322.95" stroke="#666" stroke-width="0.9"/>
<rect x="288.2" y="334.5" width="8" height="60.9" fill="#d9cbe4" stroke="#111" stroke-width="1.4"/>
<text x="292.2" y="320.2" class="let">a</text>
<line x1="292.2" y1="395.4" x2="292.2" y2="399.8" stroke="#111" stroke-width="1.5"/>
<text x="292.2" y="408.5" class="xl">A1</text>
<line x1="306.55" y1="328.1" x2="306.55" y2="353.6" stroke="#666" stroke-width="0.9"/>
<line x1="304.35" y1="328.55" x2="308.75" y2="328.55" stroke="#666" stroke-width="0.9"/>
<rect x="302.55" y="352.5" width="8" height="42.9" fill="#cbaec7" stroke="#111" stroke-width="1.4"/>
<text x="306.55" y="325.8" class="let">a</text>
<line x1="306.55" y1="395.4" x2="306.55" y2="399.8" stroke="#111" stroke-width="1.5"/>
<text x="306.55" y="408.5" class="xl">A2</text>
<line x1="320.8" y1="372.9" x2="320.8" y2="380.9" stroke="#666" stroke-width="0.9"/>
<line x1="318.6" y1="373.35" x2="323" y2="373.35" stroke="#666" stroke-width="0.9"/>
<rect x="316.8" y="379.8" width="8" height="15.6" fill="#d39ec8" stroke="#111" stroke-width="1.4"/>
<text x="320.8" y="370.6" class="let">b</text>
<line x1="320.8" y1="395.4" x2="320.8" y2="399.8" stroke="#111" stroke-width="1.5"/>
<text x="320.8" y="408.5" class="xl">A3</text>
<line x1="335" y1="376.7" x2="335" y2="384.7" stroke="#666" stroke-width="0.9"/>
<line x1="332.8" y1="377.15" x2="337.2" y2="377.15" stroke="#666" stroke-width="0.9"/>
<rect x="331" y="383.6" width="8" height="11.8" fill="#9d80bc" stroke="#111" stroke-width="1.4"/>
<text x="335" y="374.4" class="let">b</text>
<line x1="335" y1="395.4" x2="335" y2="399.8" stroke="#111" stroke-width="1.5"/>
<text x="335" y="408.5" class="xl">A4</text>
<line x1="282.6" y1="302.5" x2="282.6" y2="395.4" stroke="#111" stroke-width="1.6"/>
<line x1="278.2" y1="395.4" x2="345" y2="395.4" stroke="#111" stroke-width="1.6"/>
<line x1="278.8" y1="303.3" x2="282.6" y2="303.3" stroke="#111" stroke-width="1.5"/>
<text x="277.5" y="305.9" class="tk" font-size="6.8">1.5</text>
<line x1="278.8" y1="334.2" x2="282.6" y2="334.2" stroke="#111" stroke-width="1.5"/>
<text x="277.5" y="336.8" class="tk" font-size="6.8">1.0</text>
<line x1="278.8" y1="364.9" x2="282.6" y2="364.9" stroke="#111" stroke-width="1.5"/>
<text x="277.5" y="367.5" class="tk" font-size="6.8">0.5</text>
<line x1="278.8" y1="395.4" x2="282.6" y2="395.4" stroke="#111" stroke-width="1.5"/>
<text x="277.5" y="398" class="tk" font-size="6.8">0.0</text>
<text x="313.25" y="291" class="ti it">SREBP1</text>
<text transform="translate(263.5,348.7) rotate(-90)" class="yl">Relative mRNA expression</text>
<line x1="399.9" y1="370.7" x2="399.9" y2="379.7" stroke="#666" stroke-width="0.9"/>
<line x1="397.7" y1="371.15" x2="402.1" y2="371.15" stroke="#666" stroke-width="0.9"/>
<rect x="395.9" y="378.6" width="8" height="18" fill="#d9cbe4" stroke="#111" stroke-width="1.4"/>
<text x="399.9" y="368.4" class="let">b</text>
<line x1="399.9" y1="396.6" x2="399.9" y2="401" stroke="#111" stroke-width="1.5"/>
<text x="399.9" y="408.9" class="xl">A1</text>
<line x1="414.9" y1="347.4" x2="414.9" y2="361" stroke="#666" stroke-width="0.9"/>
<line x1="412.7" y1="347.85" x2="417.1" y2="347.85" stroke="#666" stroke-width="0.9"/>
<rect x="410.9" y="359.9" width="8" height="36.7" fill="#cbaec7" stroke="#111" stroke-width="1.4"/>
<text x="414.9" y="345.1" class="let">ab</text>
<line x1="414.9" y1="396.6" x2="414.9" y2="401" stroke="#111" stroke-width="1.5"/>
<text x="414.9" y="408.9" class="xl">A2</text>
<line x1="430" y1="341.4" x2="430" y2="355" stroke="#666" stroke-width="0.9"/>
<line x1="427.8" y1="341.85" x2="432.2" y2="341.85" stroke="#666" stroke-width="0.9"/>
<rect x="426" y="353.9" width="8" height="42.7" fill="#d39ec8" stroke="#111" stroke-width="1.4"/>
<text x="430" y="339.1" class="let">ab</text>
<line x1="430" y1="396.6" x2="430" y2="401" stroke="#111" stroke-width="1.5"/>
<text x="430" y="408.9" class="xl">A3</text>
<line x1="445.1" y1="325.9" x2="445.1" y2="342.6" stroke="#666" stroke-width="0.9"/>
<line x1="442.9" y1="326.35" x2="447.3" y2="326.35" stroke="#666" stroke-width="0.9"/>
<rect x="441.1" y="341.5" width="8" height="55.1" fill="#9d80bc" stroke="#111" stroke-width="1.4"/>
<text x="445.1" y="323.6" class="let">a</text>
<line x1="445.1" y1="396.6" x2="445.1" y2="401" stroke="#111" stroke-width="1.5"/>
<text x="445.1" y="408.9" class="xl">A4</text>
<line x1="389.1" y1="302.9" x2="389.1" y2="396.6" stroke="#111" stroke-width="1.6"/>
<line x1="385.7" y1="396.6" x2="456" y2="396.6" stroke="#111" stroke-width="1.6"/>
<line x1="385.3" y1="303.7" x2="389.1" y2="303.7" stroke="#111" stroke-width="1.5"/>
<text x="384" y="306.3" class="tk" font-size="6.8">5</text>
<line x1="385.3" y1="322.5" x2="389.1" y2="322.5" stroke="#111" stroke-width="1.5"/>
<text x="384" y="325.1" class="tk" font-size="6.8">4</text>
<line x1="385.3" y1="340.8" x2="389.1" y2="340.8" stroke="#111" stroke-width="1.5"/>
<text x="384" y="343.4" class="tk" font-size="6.8">3</text>
<line x1="385.3" y1="359.4" x2="389.1" y2="359.4" stroke="#111" stroke-width="1.5"/>
<text x="384" y="362" class="tk" font-size="6.8">2</text>
<line x1="385.3" y1="378.1" x2="389.1" y2="378.1" stroke="#111" stroke-width="1.5"/>
<text x="384" y="380.7" class="tk" font-size="6.8">1</text>
<line x1="385.3" y1="396.6" x2="389.1" y2="396.6" stroke="#111" stroke-width="1.5"/>
<text x="384" y="399.2" class="tk" font-size="6.8">0</text>
<text x="423.45" y="291.5" class="ti it">FASN</text>
<text transform="translate(374.5,349.5) rotate(-90)" class="yl">Relative mRNA expression</text>
<line x1="513.9" y1="323.1" x2="513.9" y2="336.6" stroke="#666" stroke-width="0.9"/>
<line x1="511.7" y1="323.55" x2="516.1" y2="323.55" stroke="#666" stroke-width="0.9"/>
<rect x="509.9" y="335.5" width="8" height="60.9" fill="#d9cbe4" stroke="#111" stroke-width="1.4"/>
<line x1="513.9" y1="396.4" x2="513.9" y2="400.8" stroke="#111" stroke-width="1.5"/>
<text x="513.9" y="408.9" class="xl">A1</text>
<line x1="528.3" y1="317.3" x2="528.3" y2="341" stroke="#666" stroke-width="0.9"/>
<line x1="526.1" y1="317.75" x2="530.5" y2="317.75" stroke="#666" stroke-width="0.9"/>
<rect x="524.3" y="339.9" width="8" height="56.5" fill="#cbaec7" stroke="#111" stroke-width="1.4"/>
<line x1="528.3" y1="396.4" x2="528.3" y2="400.8" stroke="#111" stroke-width="1.5"/>
<text x="528.3" y="408.9" class="xl">A2</text>
<line x1="542.35" y1="331.2" x2="542.35" y2="341" stroke="#666" stroke-width="0.9"/>
<line x1="540.15" y1="331.65" x2="544.55" y2="331.65" stroke="#666" stroke-width="0.9"/>
<rect x="538.35" y="339.9" width="8" height="56.5" fill="#d39ec8" stroke="#111" stroke-width="1.4"/>
<line x1="542.35" y1="396.4" x2="542.35" y2="400.8" stroke="#111" stroke-width="1.5"/>
<text x="542.35" y="408.9" class="xl">A3</text>
<line x1="556.8" y1="328.5" x2="556.8" y2="342" stroke="#666" stroke-width="0.9"/>
<line x1="554.6" y1="328.95" x2="559" y2="328.95" stroke="#666" stroke-width="0.9"/>
<rect x="552.8" y="340.9" width="8" height="55.5" fill="#9d80bc" stroke="#111" stroke-width="1.4"/>
<line x1="556.8" y1="396.4" x2="556.8" y2="400.8" stroke="#111" stroke-width="1.5"/>
<text x="556.8" y="408.9" class="xl">A4</text>
<line x1="504.5" y1="303.3" x2="504.5" y2="396.4" stroke="#111" stroke-width="1.6"/>
<line x1="500.1" y1="396.4" x2="566.5" y2="396.4" stroke="#111" stroke-width="1.6"/>
<line x1="500.7" y1="304.1" x2="504.5" y2="304.1" stroke="#111" stroke-width="1.5"/>
<text x="499.4" y="306.7" class="tk" font-size="6.8">1.5</text>
<line x1="500.7" y1="334.8" x2="504.5" y2="334.8" stroke="#111" stroke-width="1.5"/>
<text x="499.4" y="337.4" class="tk" font-size="6.8">1.0</text>
<line x1="500.7" y1="365.7" x2="504.5" y2="365.7" stroke="#111" stroke-width="1.5"/>
<text x="499.4" y="368.3" class="tk" font-size="6.8">0.5</text>
<line x1="500.7" y1="396.4" x2="504.5" y2="396.4" stroke="#111" stroke-width="1.5"/>
<text x="499.4" y="399" class="tk" font-size="6.8">0.0</text>
<text x="535.25" y="291.5" class="ti it">SCD</text>
<text transform="translate(486.5,349.5) rotate(-90)" class="yl">Relative mRNA expression</text>
<line x1="631.75" y1="321.5" x2="631.75" y2="335.6" stroke="#666" stroke-width="0.9"/>
<line x1="629.55" y1="321.95" x2="633.95" y2="321.95" stroke="#666" stroke-width="0.9"/>
<rect x="627.75" y="334.5" width="8" height="61.1" fill="#d9cbe4" stroke="#111" stroke-width="1.4"/>
<text x="631.75" y="319.2" class="let">a</text>
<line x1="631.75" y1="395.6" x2="631.75" y2="400" stroke="#111" stroke-width="1.5"/>
<text x="631.75" y="408.5" class="xl">A1</text>
<line x1="645.8" y1="321.5" x2="645.8" y2="340" stroke="#666" stroke-width="0.9"/>
<line x1="643.6" y1="321.95" x2="648" y2="321.95" stroke="#666" stroke-width="0.9"/>
<rect x="641.8" y="338.9" width="8" height="56.7" fill="#cbaec7" stroke="#111" stroke-width="1.4"/>
<text x="645.8" y="319.2" class="let">ab</text>
<line x1="645.8" y1="395.6" x2="645.8" y2="400" stroke="#111" stroke-width="1.5"/>
<text x="645.8" y="408.5" class="xl">A2</text>
<line x1="660.25" y1="352.2" x2="660.25" y2="363.6" stroke="#666" stroke-width="0.9"/>
<line x1="658.05" y1="352.65" x2="662.45" y2="352.65" stroke="#666" stroke-width="0.9"/>
<rect x="656.25" y="362.5" width="8" height="33.1" fill="#d39ec8" stroke="#111" stroke-width="1.4"/>
<text x="660.25" y="349.9" class="let">b</text>
<line x1="660.25" y1="395.6" x2="660.25" y2="400" stroke="#111" stroke-width="1.5"/>
<text x="660.25" y="408.5" class="xl">A3</text>
<line x1="674.3" y1="351.2" x2="674.3" y2="363.2" stroke="#666" stroke-width="0.9"/>
<line x1="672.1" y1="351.65" x2="676.5" y2="351.65" stroke="#666" stroke-width="0.9"/>
<rect x="670.3" y="362.1" width="8" height="33.5" fill="#9d80bc" stroke="#111" stroke-width="1.4"/>
<text x="674.3" y="348.9" class="let">b</text>
<line x1="674.3" y1="395.6" x2="674.3" y2="400" stroke="#111" stroke-width="1.5"/>
<text x="674.3" y="408.5" class="xl">A4</text>
<line x1="622.2" y1="302.5" x2="622.2" y2="395.6" stroke="#111" stroke-width="1.6"/>
<line x1="618.2" y1="395.6" x2="681.4" y2="395.6" stroke="#111" stroke-width="1.6"/>
<line x1="618.4" y1="303.3" x2="622.2" y2="303.3" stroke="#111" stroke-width="1.5"/>
<text x="617.1" y="305.9" class="tk" font-size="6.8">1.5</text>
<line x1="618.4" y1="334.2" x2="622.2" y2="334.2" stroke="#111" stroke-width="1.5"/>
<text x="617.1" y="336.8" class="tk" font-size="6.8">1.0</text>
<line x1="618.4" y1="364.7" x2="622.2" y2="364.7" stroke="#111" stroke-width="1.5"/>
<text x="617.1" y="367.3" class="tk" font-size="6.8">0.5</text>
<line x1="618.4" y1="395.6" x2="622.2" y2="395.6" stroke="#111" stroke-width="1.5"/>
<text x="617.1" y="398.2" class="tk" font-size="6.8">0.0</text>
<text x="652.35" y="291.3" class="ti it">ACACA</text>
<text transform="translate(603.3,349) rotate(-90)" class="yl">Relative mRNA expression</text>
<line x1="293.7" y1="461.1" x2="293.7" y2="473.8" stroke="#666" stroke-width="0.9"/>
<line x1="291.5" y1="461.55" x2="295.9" y2="461.55" stroke="#666" stroke-width="0.9"/>
<rect x="289.7" y="472.7" width="8" height="60.8" fill="#d9cbe4" stroke="#111" stroke-width="1.4"/>
<text x="293.7" y="458.8" class="let">a</text>
<line x1="293.7" y1="533.5" x2="293.7" y2="537.9" stroke="#111" stroke-width="1.5"/>
<text x="293.7" y="546" class="xl">A1</text>
<line x1="307.75" y1="482.2" x2="307.75" y2="491.8" stroke="#666" stroke-width="0.9"/>
<line x1="305.55" y1="482.65" x2="309.95" y2="482.65" stroke="#666" stroke-width="0.9"/>
<rect x="303.75" y="490.7" width="8" height="42.8" fill="#cbaec7" stroke="#111" stroke-width="1.4"/>
<text x="307.75" y="479.9" class="let">b</text>
<line x1="307.75" y1="533.5" x2="307.75" y2="537.9" stroke="#111" stroke-width="1.5"/>
<text x="307.75" y="546" class="xl">A2</text>
<line x1="322" y1="487.6" x2="322" y2="492.6" stroke="#666" stroke-width="0.9"/>
<line x1="319.8" y1="488.05" x2="324.2" y2="488.05" stroke="#666" stroke-width="0.9"/>
<rect x="318" y="491.5" width="8" height="42" fill="#d39ec8" stroke="#111" stroke-width="1.4"/>
<text x="322" y="485.3" class="let">b</text>
<line x1="322" y1="533.5" x2="322" y2="537.9" stroke="#111" stroke-width="1.5"/>
<text x="322" y="546" class="xl">A3</text>
<line x1="336.35" y1="488.2" x2="336.35" y2="495.2" stroke="#666" stroke-width="0.9"/>
<line x1="334.15" y1="488.65" x2="338.55" y2="488.65" stroke="#666" stroke-width="0.9"/>
<rect x="332.35" y="494.1" width="8" height="39.4" fill="#9d80bc" stroke="#111" stroke-width="1.4"/>
<text x="336.35" y="485.9" class="let">b</text>
<line x1="336.35" y1="533.5" x2="336.35" y2="537.9" stroke="#111" stroke-width="1.5"/>
<text x="336.35" y="546" class="xl">A4</text>
<line x1="283.8" y1="440.3" x2="283.8" y2="533.5" stroke="#111" stroke-width="1.6"/>
<line x1="279.2" y1="533.5" x2="346.4" y2="533.5" stroke="#111" stroke-width="1.6"/>
<line x1="280" y1="441.1" x2="283.8" y2="441.1" stroke="#111" stroke-width="1.5"/>
<text x="278.7" y="443.7" class="tk" font-size="6.8">1.5</text>
<line x1="280" y1="472.2" x2="283.8" y2="472.2" stroke="#111" stroke-width="1.5"/>
<text x="278.7" y="474.8" class="tk" font-size="6.8">1.0</text>
<line x1="280" y1="502.8" x2="283.8" y2="502.8" stroke="#111" stroke-width="1.5"/>
<text x="278.7" y="505.4" class="tk" font-size="6.8">0.5</text>
<line x1="280" y1="533.5" x2="283.8" y2="533.5" stroke="#111" stroke-width="1.5"/>
<text x="278.7" y="536.1" class="tk" font-size="6.8">0.0</text>
<text x="314.75" y="429.3" class="ti it">CFL2</text>
<text transform="translate(265,486.9) rotate(-90)" class="yl">Relative mRNA expression</text>
<line x1="403.7" y1="491.2" x2="403.7" y2="499.6" stroke="#666" stroke-width="0.9"/>
<line x1="401.5" y1="491.65" x2="405.9" y2="491.65" stroke="#666" stroke-width="0.9"/>
<rect x="399.7" y="498.5" width="8" height="36.2" fill="#d9cbe4" stroke="#111" stroke-width="1.4"/>
<text x="403.7" y="488.9" class="let">b</text>
<line x1="403.7" y1="534.7" x2="403.7" y2="539.1" stroke="#111" stroke-width="1.5"/>
<text x="403.7" y="546" class="xl">A1</text>
<line x1="417.7" y1="468.1" x2="417.7" y2="479" stroke="#666" stroke-width="0.9"/>
<line x1="415.5" y1="468.55" x2="419.9" y2="468.55" stroke="#666" stroke-width="0.9"/>
<rect x="413.7" y="477.9" width="8" height="56.8" fill="#cbaec7" stroke="#111" stroke-width="1.4"/>
<text x="417.7" y="465.8" class="let">a</text>
<line x1="417.7" y1="534.7" x2="417.7" y2="539.1" stroke="#111" stroke-width="1.5"/>
<text x="417.7" y="546" class="xl">A2</text>
<line x1="432" y1="461.1" x2="432" y2="478" stroke="#666" stroke-width="0.9"/>
<line x1="429.8" y1="461.55" x2="434.2" y2="461.55" stroke="#666" stroke-width="0.9"/>
<rect x="428" y="476.9" width="8" height="57.8" fill="#d39ec8" stroke="#111" stroke-width="1.4"/>
<text x="432" y="458.8" class="let">a</text>
<line x1="432" y1="534.7" x2="432" y2="539.1" stroke="#111" stroke-width="1.5"/>
<text x="432" y="546" class="xl">A3</text>
<line x1="446" y1="471.8" x2="446" y2="478.8" stroke="#666" stroke-width="0.9"/>
<line x1="443.8" y1="472.25" x2="448.2" y2="472.25" stroke="#666" stroke-width="0.9"/>
<rect x="442" y="477.7" width="8" height="57" fill="#9d80bc" stroke="#111" stroke-width="1.4"/>
<text x="446" y="469.5" class="let">a</text>
<line x1="446" y1="534.7" x2="446" y2="539.1" stroke="#111" stroke-width="1.5"/>
<text x="446" y="546" class="xl">A4</text>
<line x1="393.8" y1="441.5" x2="393.8" y2="534.7" stroke="#111" stroke-width="1.6"/>
<line x1="389.8" y1="534.7" x2="455.8" y2="534.7" stroke="#111" stroke-width="1.6"/>
<line x1="390" y1="442.3" x2="393.8" y2="442.3" stroke="#111" stroke-width="1.5"/>
<text x="388.7" y="444.9" class="tk" font-size="6.8">2.5</text>
<line x1="390" y1="460.7" x2="393.8" y2="460.7" stroke="#111" stroke-width="1.5"/>
<text x="388.7" y="463.3" class="tk" font-size="6.8">2.0</text>
<line x1="390" y1="479.2" x2="393.8" y2="479.2" stroke="#111" stroke-width="1.5"/>
<text x="388.7" y="481.8" class="tk" font-size="6.8">1.5</text>
<line x1="390" y1="497.8" x2="393.8" y2="497.8" stroke="#111" stroke-width="1.5"/>
<text x="388.7" y="500.4" class="tk" font-size="6.8">1.0</text>
<line x1="390" y1="516.3" x2="393.8" y2="516.3" stroke="#111" stroke-width="1.5"/>
<text x="388.7" y="518.9" class="tk" font-size="6.8">0.5</text>
<line x1="390" y1="534.7" x2="393.8" y2="534.7" stroke="#111" stroke-width="1.5"/>
<text x="388.7" y="537.3" class="tk" font-size="6.8">0.0</text>
<text x="425.25" y="430" class="ti it">Villin2</text>
<text transform="translate(374.5,487.5) rotate(-90)" class="yl">Relative mRNA expression</text>
<line x1="514.9" y1="462.3" x2="514.9" y2="474.6" stroke="#666" stroke-width="0.9"/>
<line x1="512.7" y1="462.75" x2="517.1" y2="462.75" stroke="#666" stroke-width="0.9"/>
<rect x="510.9" y="473.5" width="8" height="60.8" fill="#d9cbe4" stroke="#111" stroke-width="1.4"/>
<line x1="514.9" y1="534.3" x2="514.9" y2="538.7" stroke="#111" stroke-width="1.5"/>
<text x="514.9" y="546" class="xl">A1</text>
<line x1="529.1" y1="470.2" x2="529.1" y2="480.8" stroke="#666" stroke-width="0.9"/>
<line x1="526.9" y1="470.65" x2="531.3" y2="470.65" stroke="#666" stroke-width="0.9"/>
<rect x="525.1" y="479.7" width="8" height="54.6" fill="#cbaec7" stroke="#111" stroke-width="1.4"/>
<line x1="529.1" y1="534.3" x2="529.1" y2="538.7" stroke="#111" stroke-width="1.5"/>
<text x="529.1" y="546" class="xl">A2</text>
<line x1="543.3" y1="471.4" x2="543.3" y2="482.6" stroke="#666" stroke-width="0.9"/>
<line x1="541.1" y1="471.85" x2="545.5" y2="471.85" stroke="#666" stroke-width="0.9"/>
<rect x="539.3" y="481.5" width="8" height="52.8" fill="#d39ec8" stroke="#111" stroke-width="1.4"/>
<line x1="543.3" y1="534.3" x2="543.3" y2="538.7" stroke="#111" stroke-width="1.5"/>
<text x="543.3" y="546" class="xl">A3</text>
<line x1="557.6" y1="473.4" x2="557.6" y2="485.6" stroke="#666" stroke-width="0.9"/>
<line x1="555.4" y1="473.85" x2="559.8" y2="473.85" stroke="#666" stroke-width="0.9"/>
<rect x="553.6" y="484.5" width="8" height="49.8" fill="#9d80bc" stroke="#111" stroke-width="1.4"/>
<line x1="557.6" y1="534.3" x2="557.6" y2="538.7" stroke="#111" stroke-width="1.5"/>
<text x="557.6" y="546" class="xl">A4</text>
<line x1="505.2" y1="440.7" x2="505.2" y2="534.3" stroke="#111" stroke-width="1.6"/>
<line x1="501.2" y1="534.3" x2="567.5" y2="534.3" stroke="#111" stroke-width="1.6"/>
<line x1="501.4" y1="441.5" x2="505.2" y2="441.5" stroke="#111" stroke-width="1.5"/>
<text x="500.1" y="444.1" class="tk" font-size="6.8">1.5</text>
<line x1="501.4" y1="472.8" x2="505.2" y2="472.8" stroke="#111" stroke-width="1.5"/>
<text x="500.1" y="475.4" class="tk" font-size="6.8">1.0</text>
<line x1="501.4" y1="503.5" x2="505.2" y2="503.5" stroke="#111" stroke-width="1.5"/>
<text x="500.1" y="506.1" class="tk" font-size="6.8">0.5</text>
<line x1="501.4" y1="534.3" x2="505.2" y2="534.3" stroke="#111" stroke-width="1.5"/>
<text x="500.1" y="536.9" class="tk" font-size="6.8">0.0</text>
<text x="536.45" y="430" class="ti it">CAPZA2</text>
<text transform="translate(486.5,487.5) rotate(-90)" class="yl">Relative mRNA expression</text>
<line x1="631.35" y1="465.5" x2="631.35" y2="474" stroke="#666" stroke-width="0.9"/>
<line x1="629.15" y1="465.95" x2="633.55" y2="465.95" stroke="#666" stroke-width="0.9"/>
<rect x="627.35" y="472.9" width="8" height="61.4" fill="#d9cbe4" stroke="#111" stroke-width="1.4"/>
<line x1="631.35" y1="534.3" x2="631.35" y2="538.7" stroke="#111" stroke-width="1.5"/>
<text x="631.35" y="546" class="xl">A1</text>
<line x1="645.4" y1="467.3" x2="645.4" y2="478" stroke="#666" stroke-width="0.9"/>
<line x1="643.2" y1="467.75" x2="647.6" y2="467.75" stroke="#666" stroke-width="0.9"/>
<rect x="641.4" y="476.9" width="8" height="57.4" fill="#cbaec7" stroke="#111" stroke-width="1.4"/>
<line x1="645.4" y1="534.3" x2="645.4" y2="538.7" stroke="#111" stroke-width="1.5"/>
<text x="645.4" y="546" class="xl">A2</text>
<line x1="659.8" y1="474.2" x2="659.8" y2="485.2" stroke="#666" stroke-width="0.9"/>
<line x1="657.6" y1="474.65" x2="662" y2="474.65" stroke="#666" stroke-width="0.9"/>
<rect x="655.8" y="484.1" width="8" height="50.2" fill="#d39ec8" stroke="#111" stroke-width="1.4"/>
<line x1="659.8" y1="534.3" x2="659.8" y2="538.7" stroke="#111" stroke-width="1.5"/>
<text x="659.8" y="546" class="xl">A3</text>
<line x1="674.3" y1="480.8" x2="674.3" y2="492" stroke="#666" stroke-width="0.9"/>
<line x1="672.1" y1="481.25" x2="676.5" y2="481.25" stroke="#666" stroke-width="0.9"/>
<rect x="670.3" y="490.9" width="8" height="43.4" fill="#9d80bc" stroke="#111" stroke-width="1.4"/>
<line x1="674.3" y1="534.3" x2="674.3" y2="538.7" stroke="#111" stroke-width="1.5"/>
<text x="674.3" y="546" class="xl">A4</text>
<line x1="621.8" y1="440.3" x2="621.8" y2="534.3" stroke="#111" stroke-width="1.6"/>
<line x1="616.2" y1="534.3" x2="681.4" y2="534.3" stroke="#111" stroke-width="1.6"/>
<line x1="618" y1="441.1" x2="621.8" y2="441.1" stroke="#111" stroke-width="1.5"/>
<text x="616.7" y="443.7" class="tk" font-size="6.8">1.5</text>
<line x1="618" y1="472.2" x2="621.8" y2="472.2" stroke="#111" stroke-width="1.5"/>
<text x="616.7" y="474.8" class="tk" font-size="6.8">1.0</text>
<line x1="618" y1="503.2" x2="621.8" y2="503.2" stroke="#111" stroke-width="1.5"/>
<text x="616.7" y="505.8" class="tk" font-size="6.8">0.5</text>
<line x1="618" y1="534.3" x2="621.8" y2="534.3" stroke="#111" stroke-width="1.5"/>
<text x="616.7" y="536.9" class="tk" font-size="6.8">0.0</text>
<text x="653.05" y="429.6" class="ti it">HSP70</text>
<text transform="translate(603.3,487.5) rotate(-90)" class="yl">Relative mRNA expression</text>
</svg>
</body></html>
